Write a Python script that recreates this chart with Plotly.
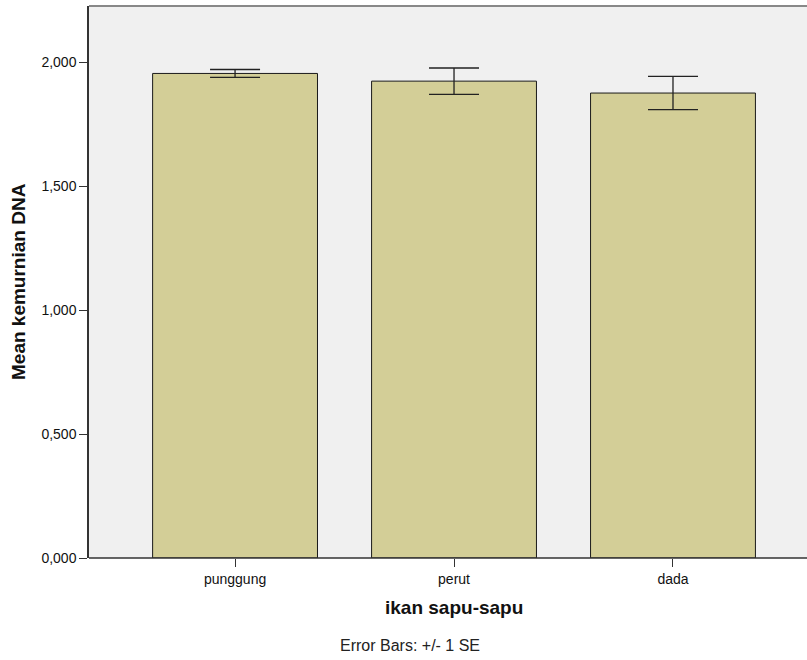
import plotly.graph_objects as go

categories = ["punggung", "perut", "dada"]
means = [1.954, 1.923, 1.875]
se = [0.016, 0.053, 0.067]
y_ticks = [0, 0.5, 1.0, 1.5, 2.0]

fig = go.Figure()
fig.add_trace(go.Bar(
    x=categories, y=means, width=0.753,
    marker=dict(color="#D3CE97", line=dict(color="#1a1a1a", width=1)),
    error_y=dict(type="data", array=se, visible=True, color="#222222", thickness=1.3, width=25),
    hoverinfo="skip",
))

font = "Liberation Sans, Arial, sans-serif"
fig.update_layout(
    width=807, height=660,
    margin=dict(l=89, r=0, t=6, b=102),
    paper_bgcolor="white", plot_bgcolor="#F0F0F0",
    separators=",.",
    showlegend=False,
    font=dict(family=font, size=14, color="#111111"),
    xaxis=dict(
        range=[-0.667, 2.612], showgrid=False, zeroline=False,
        showline=False, ticks="outside", ticklen=8, tickcolor="#333333",
        tickfont=dict(size=14, family=font, color="#111111"),
        fixedrange=True,
    ),
    yaxis=dict(
        range=[0, 2.226], tickvals=y_ticks, tickformat=".3f",
        showgrid=False, zeroline=False,
        showline=True, linecolor="#333333", linewidth=1.5,
        ticks="outside", ticklen=8, tickcolor="#333333",
        tickfont=dict(size=14, family=font, color="#111111"),
        fixedrange=True,
    ),
    shapes=[
        dict(type="line", xref="paper", yref="paper", x0=0, x1=1, y0=1, y1=1,
             line=dict(color="#888888", width=2)),
        dict(type="line", xref="paper", yref="paper", x0=0, x1=1, y0=0, y1=0,
             line=dict(color="#333333", width=1.5)),
    ],
    annotations=[
        dict(text="<b>ikan sapu-sapu</b>", xref="paper", yref="paper", x=(454-89)/718, y=0,
             yshift=-49, showarrow=False, font=dict(size=19, family=font, color="#111111"),
             xanchor="center", yanchor="middle"),
        dict(text="<b>Mean kemurnian DNA</b>", xref="paper", yref="paper", x=0, y=0.5,
             xshift=-71, textangle=-90, showarrow=False,
             font=dict(size=19, family=font, color="#111111"),
             xanchor="center", yanchor="middle"),
        dict(text="Error Bars: +/- 1 SE", xref="paper", yref="paper", x=(410-89)/718, y=0,
             yshift=-87, showarrow=False, font=dict(size=16, family=font, color="#222222"),
             xanchor="center", yanchor="middle"),
    ],
)

fig.write_html("out.html", post_script="document.body.style.margin='0';",
               config={"displayModeBar": False})
